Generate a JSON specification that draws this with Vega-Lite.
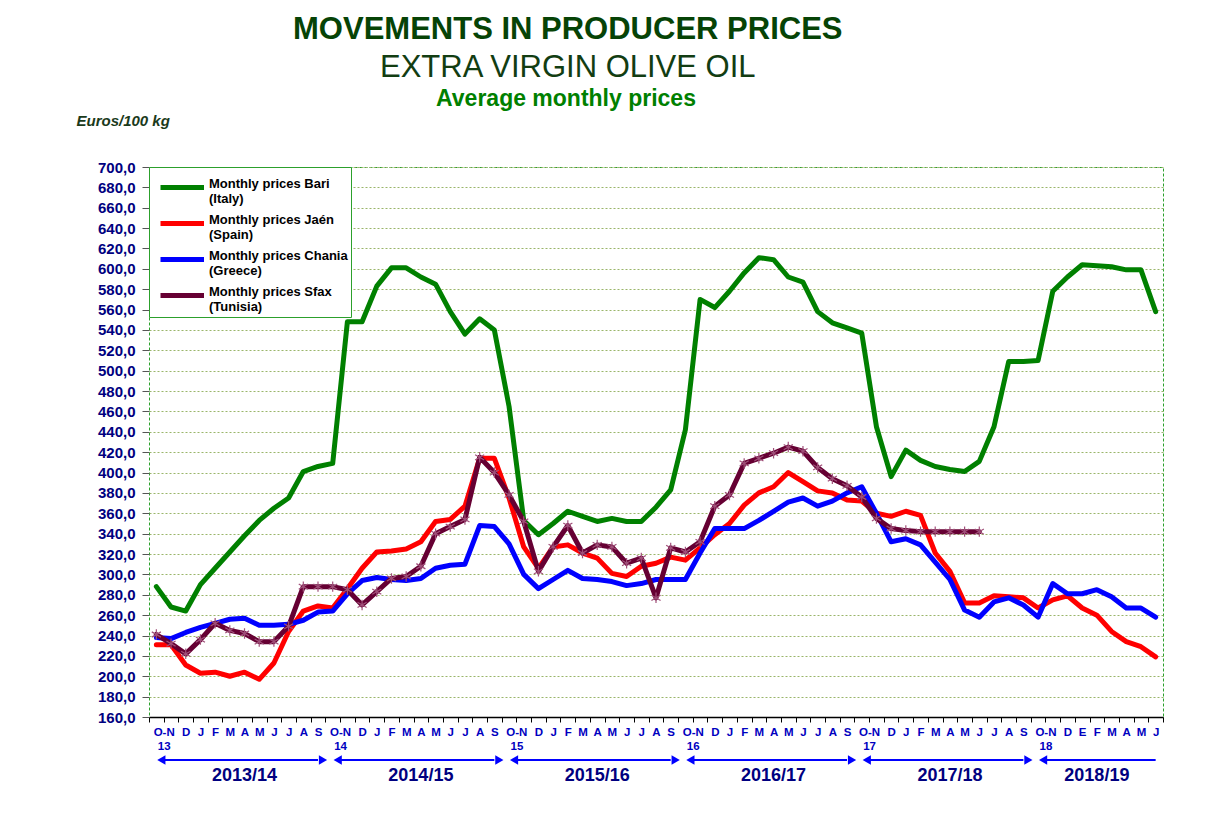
{
  "$schema": "https://vega.github.io/schema/vega-lite/v6.json",
  "background": "white",
  "padding": {"left": 75, "top": 13, "right": 10, "bottom": 5},
  "config": {"font": "Liberation Sans", "view": {"stroke": null}},
  "title": {
    "text": "MOVEMENTS IN PRODUCER PRICES",
    "subtitle": "EXTRA VIRGIN OLIVE OIL",
    "fontSize": 31, "fontWeight": "bold", "color": "#064306",
    "subtitleFontSize": 31, "subtitleColor": "#123d12", "subtitleFontWeight": "normal",
    "subtitlePadding": 7, "anchor": "middle", "dx": -52, "offset": 4
  },
  "spacing": 0,
  "resolve": {"scale": {"x": "independent", "y": "independent"}},
  "vconcat": [
    {
      "width": 1014,
      "height": 550,
      "title": {"text": "Average monthly prices", "fontSize": 23, "color": "#008000", "fontWeight": "bold", "anchor": "middle", "frame": "group", "dx": -90, "offset": 2},
      "view": {"stroke": "#2ca02c", "strokeDash": [3, 2], "strokeWidth": 1},
      "data": {"values": [
        {"i": 0, "Bari": 288, "Jaen": 231, "Chania": 238, "Sfax": 241},
        {"i": 1, "Bari": 268, "Jaen": 231, "Chania": 237, "Sfax": 232},
        {"i": 2, "Bari": 264, "Jaen": 211, "Chania": 243, "Sfax": 222},
        {"i": 3, "Bari": 290, "Jaen": 203, "Chania": 248, "Sfax": 236},
        {"i": 4, "Bari": 306, "Jaen": 204, "Chania": 252, "Sfax": 252},
        {"i": 5, "Bari": 322, "Jaen": 200, "Chania": 256, "Sfax": 245},
        {"i": 6, "Bari": 338, "Jaen": 204, "Chania": 257, "Sfax": 242},
        {"i": 7, "Bari": 353, "Jaen": 197, "Chania": 250, "Sfax": 234},
        {"i": 8, "Bari": 365, "Jaen": 213, "Chania": 250, "Sfax": 234},
        {"i": 9, "Bari": 375, "Jaen": 244, "Chania": 251, "Sfax": 249},
        {"i": 10, "Bari": 401, "Jaen": 264, "Chania": 255, "Sfax": 288},
        {"i": 11, "Bari": 406, "Jaen": 269, "Chania": 263, "Sfax": 288},
        {"i": 12, "Bari": 409, "Jaen": 267, "Chania": 264, "Sfax": 288},
        {"i": 13, "Bari": 548, "Jaen": 286, "Chania": 281, "Sfax": 285},
        {"i": 14, "Bari": 548, "Jaen": 306, "Chania": 294, "Sfax": 270},
        {"i": 15, "Bari": 583, "Jaen": 322, "Chania": 297, "Sfax": 283},
        {"i": 16, "Bari": 601, "Jaen": 323, "Chania": 295, "Sfax": 296},
        {"i": 17, "Bari": 601, "Jaen": 325, "Chania": 294, "Sfax": 298},
        {"i": 18, "Bari": 592, "Jaen": 332, "Chania": 296, "Sfax": 308},
        {"i": 19, "Bari": 585, "Jaen": 352, "Chania": 306, "Sfax": 340},
        {"i": 20, "Bari": 558, "Jaen": 354, "Chania": 309, "Sfax": 347},
        {"i": 21, "Bari": 536, "Jaen": 367, "Chania": 310, "Sfax": 354},
        {"i": 22, "Bari": 551, "Jaen": 414, "Chania": 348, "Sfax": 415},
        {"i": 23, "Bari": 540, "Jaen": 414, "Chania": 347, "Sfax": 400},
        {"i": 24, "Bari": 465, "Jaen": 375, "Chania": 330, "Sfax": 378},
        {"i": 25, "Bari": 353, "Jaen": 327, "Chania": 300, "Sfax": 352},
        {"i": 26, "Bari": 339, "Jaen": 306, "Chania": 286, "Sfax": 303},
        {"i": 27, "Bari": 350, "Jaen": 327, "Chania": 295, "Sfax": 327},
        {"i": 28, "Bari": 362, "Jaen": 329, "Chania": 304, "Sfax": 348},
        {"i": 29, "Bari": 357, "Jaen": 321, "Chania": 296, "Sfax": 321},
        {"i": 30, "Bari": 352, "Jaen": 316, "Chania": 295, "Sfax": 329},
        {"i": 31, "Bari": 355, "Jaen": 301, "Chania": 293, "Sfax": 327},
        {"i": 32, "Bari": 352, "Jaen": 298, "Chania": 289, "Sfax": 311},
        {"i": 33, "Bari": 352, "Jaen": 308, "Chania": 291, "Sfax": 316},
        {"i": 34, "Bari": 366, "Jaen": 311, "Chania": 295, "Sfax": 277},
        {"i": 35, "Bari": 383, "Jaen": 317, "Chania": 295, "Sfax": 326},
        {"i": 36, "Bari": 442, "Jaen": 314, "Chania": 295, "Sfax": 322},
        {"i": 37, "Bari": 570, "Jaen": 326, "Chania": 321, "Sfax": 332},
        {"i": 38, "Bari": 562, "Jaen": 339, "Chania": 345, "Sfax": 367},
        {"i": 39, "Bari": 578, "Jaen": 350, "Chania": 345, "Sfax": 378},
        {"i": 40, "Bari": 596, "Jaen": 368, "Chania": 345, "Sfax": 409},
        {"i": 41, "Bari": 611, "Jaen": 380, "Chania": 353, "Sfax": 414},
        {"i": 42, "Bari": 609, "Jaen": 386, "Chania": 362, "Sfax": 419},
        {"i": 43, "Bari": 592, "Jaen": 400, "Chania": 371, "Sfax": 425},
        {"i": 44, "Bari": 587, "Jaen": 391, "Chania": 375, "Sfax": 421},
        {"i": 45, "Bari": 558, "Jaen": 382, "Chania": 367, "Sfax": 405},
        {"i": 46, "Bari": 547, "Jaen": 380, "Chania": 372, "Sfax": 394},
        {"i": 47, "Bari": 542, "Jaen": 373, "Chania": 380, "Sfax": 387},
        {"i": 48, "Bari": 537, "Jaen": 372, "Chania": 386, "Sfax": 376},
        {"i": 49, "Bari": 445, "Jaen": 360, "Chania": 360, "Sfax": 355},
        {"i": 50, "Bari": 396, "Jaen": 357, "Chania": 332, "Sfax": 345},
        {"i": 51, "Bari": 422, "Jaen": 362, "Chania": 335, "Sfax": 343},
        {"i": 52, "Bari": 412, "Jaen": 358, "Chania": 329, "Sfax": 342},
        {"i": 53, "Bari": 406, "Jaen": 321, "Chania": 312, "Sfax": 342},
        {"i": 54, "Bari": 403, "Jaen": 303, "Chania": 295, "Sfax": 342},
        {"i": 55, "Bari": 401, "Jaen": 272, "Chania": 265, "Sfax": 342},
        {"i": 56, "Bari": 411, "Jaen": 272, "Chania": 258, "Sfax": 342},
        {"i": 57, "Bari": 445, "Jaen": 279, "Chania": 273},
        {"i": 58, "Bari": 509, "Jaen": 278, "Chania": 277},
        {"i": 59, "Bari": 509, "Jaen": 277, "Chania": 270},
        {"i": 60, "Bari": 510, "Jaen": 267, "Chania": 258},
        {"i": 61, "Bari": 578, "Jaen": 275, "Chania": 291},
        {"i": 62, "Bari": 592, "Jaen": 279, "Chania": 281},
        {"i": 63, "Bari": 604, "Jaen": 267, "Chania": 281},
        {"i": 64, "Bari": 603, "Jaen": 260, "Chania": 285},
        {"i": 65, "Bari": 602, "Jaen": 244, "Chania": 278},
        {"i": 66, "Bari": 599, "Jaen": 234, "Chania": 267},
        {"i": 67, "Bari": 599, "Jaen": 229, "Chania": 267},
        {"i": 68, "Bari": 558, "Jaen": 219, "Chania": 258}
      ]},
      "transform": [{"fold": ["Bari", "Jaen", "Chania", "Sfax"], "as": ["series", "price"]}],
      "encoding": {
        "y": {
          "field": "price", "type": "quantitative",
          "scale": {"domain": [160, 700], "nice": false, "zero": false},
          "axis": {
            "values": [160, 180, 200, 220, 240, 260, 280, 300, 320, 340, 360, 380, 400, 420, 440, 460, 480, 500, 520, 540, 560, 580, 600, 620, 640, 660, 680, 700],
            "labelExpr": "replace(format(datum.value, '.1f'), '.', ',')",
            "labelFontWeight": "bold", "labelFontSize": 15, "labelColor": "#000080",
            "labelOverlap": false, "labelBound": false, "labelFlush": false,
            "tickSize": 7, "tickColor": "#555555", "labelPadding": 7,
            "domain": false,
            "gridColor": "#9ab56a", "gridDash": [2, 2], "gridWidth": 1.2,
            "title": "Euros/100 kg", "titleAngle": 0, "titleAlign": "left", "titleBaseline": "middle",
            "titleX": -73, "titleY": -47, "titleFontSize": 15, "titleFontStyle": "italic",
            "titleFontWeight": "bold", "titleColor": "#1b3a1b"
          }
        }
      },
      "layer": [
        {
          "mark": {"type": "line", "strokeWidth": 5, "strokeJoin": "round", "strokeCap": "round"},
          "encoding": {
            "x": {
              "field": "i", "type": "quantitative",
              "scale": {"domain": [-0.5, 68.5], "nice": false, "zero": false},
              "axis": {
                "orient": "bottom", "title": null, "labels": false, "grid": false,
                "values": [-0.5, 0.5, 1.5, 2.5, 3.5, 4.5, 5.5, 6.5, 7.5, 8.5, 9.5, 10.5, 11.5, 12.5, 13.5, 14.5, 15.5, 16.5, 17.5, 18.5, 19.5, 20.5, 21.5, 22.5, 23.5, 24.5, 25.5, 26.5, 27.5, 28.5, 29.5, 30.5, 31.5, 32.5, 33.5, 34.5, 35.5, 36.5, 37.5, 38.5, 39.5, 40.5, 41.5, 42.5, 43.5, 44.5, 45.5, 46.5, 47.5, 48.5, 49.5, 50.5, 51.5, 52.5, 53.5, 54.5, 55.5, 56.5, 57.5, 58.5, 59.5, 60.5, 61.5, 62.5, 63.5, 64.5, 65.5, 66.5, 67.5, 68.5],
                "tickSize": 5, "tickColor": "#000000", "domainColor": "#000000", "domainWidth": 1.5
              }
            },
            "color": {
              "field": "series", "type": "nominal",
              "scale": {"domain": ["Bari", "Jaen", "Chania", "Sfax"], "range": ["#008000", "#ff0000", "#0000ff", "#660033"]},
              "legend": {
                "title": null, "orient": "top-left", "offset": 0, "padding": 3,
                "strokeColor": "#2ca02c", "fillColor": "white",
                "symbolType": "M-0.6,0L2.3,0", "symbolStrokeWidth": 5, "symbolSize": 900,
                "labelFontSize": 13, "labelFontWeight": "bold", "labelColor": "#000000",
                "labelLimit": 300, "rowPadding": 0, "labelBaseline": "alphabetic", "labelOffset": 22,
                "labelExpr": "datum.label == 'Bari' ? ['Monthly prices Bari', '(Italy)'] : datum.label == 'Jaen' ? ['Monthly prices Jaén', '(Spain)'] : datum.label == 'Chania' ? ['Monthly prices Chania', '(Greece)'] : ['Monthly prices Sfax', '(Tunisia)']"
              }
            }
          }
        },
        {
          "transform": [{"filter": "datum.series == 'Sfax' && isValid(datum.price)"}],
          "mark": {"type": "point", "shape": "M0,-1L0,1M-0.87,-0.5L0.87,0.5M-0.87,0.5L0.87,-0.5", "filled": false, "color": "#a0507a", "strokeWidth": 1.2, "size": 110, "opacity": 1},
          "encoding": {
            "x": {
              "field": "i", "type": "quantitative",
              "scale": {"domain": [-0.5, 68.5], "nice": false, "zero": false},
              "axis": {
                "orient": "bottom", "title": null, "ticks": false, "domain": false, "grid": false,
                "values": [0.5, 2, 3, 4, 5, 6, 7, 8, 9, 10, 11, 12.5, 14, 15, 16, 17, 18, 19, 20, 21, 22, 23, 24.5, 26, 27, 28, 29, 30, 31, 32, 33, 34, 35, 36.5, 38, 39, 40, 41, 42, 43, 44, 45, 46, 47, 48.5, 50, 51, 52, 53, 54, 55, 56, 57, 58, 59, 60.5, 62, 63, 64, 65, 66, 67, 68],
                "labelExpr": "datum.value % 12 == 0.5 ? ['O-N', format(13 + floor(datum.value / 12), 'd')] : (datum.value == 63 ? 'E' : split('x,x,D,J,F,M,A,M,J,J,A,S', ',')[datum.value % 12])",
                "labelFontWeight": "bold", "labelFontSize": 11.5, "labelColor": "#0000c0",
                "labelOverlap": false, "labelFlush": false, "labelBound": false, "labelPadding": 9, "labelLineHeight": 14
              }
            }
          }
        }
      ],
      "resolve": {"axis": {"x": "independent"}}
    },
    {
      "width": 1014,
      "height": 32,
      "data": {"values": [
        {"season": "2013/14", "first": 0, "last": 11, "mid": 6},
        {"season": "2014/15", "first": 12, "last": 23, "mid": 18},
        {"season": "2015/16", "first": 24, "last": 35, "mid": 30},
        {"season": "2016/17", "first": 36, "last": 47, "mid": 42},
        {"season": "2017/18", "first": 48, "last": 59, "mid": 54},
        {"season": "2018/19", "first": 60, "last": 68, "mid": 64}
      ]},
      "layer": [
        {
          "mark": {"type": "rule", "color": "#0000ff", "strokeWidth": 2, "xOffset": 5},
          "encoding": {
            "x": {"field": "first", "type": "quantitative", "scale": {"domain": [-0.5, 68.5], "nice": false, "zero": false}, "axis": null},
            "x2": {"field": "last"},
            "y": {"datum": "arrow", "type": "nominal", "scale": {"type": "point", "domain": ["arrow", "label"], "padding": 0.5}, "axis": null}
          }
        },
        {
          "mark": {"type": "point", "shape": "triangle-left", "filled": true, "color": "#0000ff", "size": 90, "opacity": 1, "xOffset": 5},
          "encoding": {
            "x": {"field": "first", "type": "quantitative"},
            "y": {"datum": "arrow", "type": "nominal"}
          }
        },
        {
          "transform": [{"filter": "datum.season != '2018/19'"}],
          "mark": {"type": "point", "shape": "triangle-right", "filled": true, "color": "#0000ff", "size": 90, "opacity": 1, "xOffset": 5},
          "encoding": {
            "x": {"field": "last", "type": "quantitative"},
            "y": {"datum": "arrow", "type": "nominal"}
          }
        },
        {
          "mark": {"type": "text", "fontSize": 18, "fontWeight": "bold", "color": "#000080"},
          "encoding": {
            "x": {"field": "mid", "type": "quantitative"},
            "y": {"datum": "label", "type": "nominal"},
            "text": {"field": "season", "type": "nominal"}
          }
        }
      ]
    }
  ]
}
